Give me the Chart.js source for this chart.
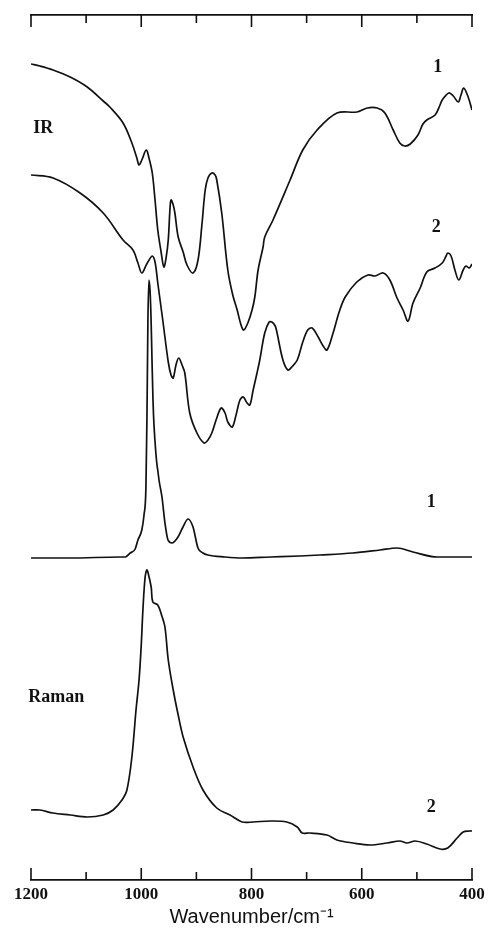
<!DOCTYPE html>
<html>
<head>
<meta charset="utf-8">
<script src="https://cdn.jsdelivr.net/npm/chart.js@4.4.1/dist/chart.umd.min.js"></script>
<style>
  html, body { margin: 0; padding: 0; background: #fff; }
  #wrap { width: 490px; height: 937px; }
</style>
</head>
<body>
<div id="wrap"><canvas id="spectra"></canvas></div>
<script>
// wavenumbers (cm-1) and offset intensities (arbitrary units)
var ir1Wn = [1200,1184,1160,1129,1098,1069,1057,1033,1017,1008,1004,999,991,986,980,975,970,964,959,955,951,948,946,942,939,933,924,917,906,897,890,884,879,872,866,863,854,843,834,826,819,814,806,799,794,788,779,776,761,730,707,681,645,609,590,572,558,543,531,522,512,498,489,482,467,458,454,442,434,425,420,415,407,400];
var ir1Val = [81.6,81.4,81.0,80.3,79.3,77.9,77.3,75.7,73.7,72.2,71.5,72.0,73.0,72.2,70.7,68.0,65.0,62.8,61.3,62.2,64.0,67.0,68.0,67.5,66.7,64.3,62.8,61.5,60.7,62.0,65.5,69.0,70.2,70.7,70.5,70.0,66.7,61.0,58.5,57.0,55.5,55.0,55.8,57.0,58.3,61.0,63.3,64.3,66.0,70.0,73.0,75.0,76.7,76.8,77.2,77.2,76.7,75.0,73.7,73.4,73.6,74.5,75.6,76.0,76.5,77.5,78.0,78.7,78.4,77.8,78.5,79.2,78.3,77.0];

var ir2Wn = [1200,1160,1111,1069,1033,1015,1006,999,990,980,975,970,961,951,946,942,937,932,926,921,912,899,886,879,872,863,855,848,843,835,828,821,815,808,803,797,790,785,776,768,763,757,754,743,734,727,717,707,698,690,679,670,663,652,641,630,609,589,576,561,549,536,525,516,507,494,482,467,454,447,444,438,431,424,416,411,405,400];
var ir2Val = [70.5,70.2,68.7,66.7,64.0,63.0,61.7,60.7,61.6,62.4,61.8,59.7,56.0,51.8,50.5,50.2,51.5,52.2,51.5,50.7,46.7,44.7,43.7,44.0,44.7,46.2,47.2,46.7,45.8,45.3,46.5,48.0,48.3,47.7,47.5,49.0,50.7,52.0,54.7,55.8,55.8,55.4,54.8,52.0,51.0,51.3,52.0,53.8,55.0,55.2,54.3,53.4,53.0,54.7,56.8,58.3,59.8,60.5,60.4,60.7,60.0,58.2,57.0,55.9,57.7,59.2,60.8,61.2,61.7,62.4,62.7,62.4,61.0,60.0,61.0,61.4,61.2,61.6];

var raman1Wn = [1200,1129,1039,1029,1020,1011,1006,999,995,991.5,989.7,987.9,986.1,984.1,982.3,980.5,978.7,976.9,973.2,971.4,969.6,967.8,962.4,957,951.5,944.2,933.3,924.3,915.2,906.1,897.1,888,878.9,848.1,817.3,766,712,676,616,567,536,507,463,400];
var raman1Val = [32.2,32.2,32.3,32.3,32.7,33.1,34.0,35.0,36.5,39.3,46.0,56.0,60.0,59.0,56.3,52.0,48.0,45.5,42.5,41.5,40.8,40.0,38.3,35.7,34.0,33.7,34.3,35.3,36.1,35.3,33.2,32.7,32.5,32.3,32.2,32.3,32.4,32.5,32.7,33.0,33.2,32.8,32.3,32.3];

var raman2Wn = [1200,1184,1160,1129,1098,1069,1051,1035,1026,1017,1009.5,1004,1000,997,993,990,988,982,979,970,962,957,951,942,933,924,906,888,863,839,817,797,766,736,717,708,694,663,645,616,585,554,531,518,503,482,458,444,427,416,404,400];
var raman2Val = [7.0,7.0,6.7,6.5,6.3,6.5,7.0,8.0,9.0,12.3,17.0,20.0,23.5,27.0,30.3,31.0,30.8,29.3,27.8,27.5,26.3,25.3,22.0,19.0,16.5,14.3,11.3,9.0,7.2,6.5,5.8,5.8,5.9,5.8,5.3,4.7,4.7,4.5,4.0,3.7,3.5,3.7,3.9,3.7,3.9,3.6,3.1,3.2,4.2,4.8,4.9,4.9];

var tickValues = [1200,1100,1000,900,800,700,600,500,400];
var tickLabels = ["1200","1000","800","600","400"];

// curve labels, placed in data units
var curveLabels = [
  { text: "IR", wn: 1196, v: 75.2, align: "left" },
  { text: "1", wn: 462, v: 81.3, align: "center" },
  { text: "2", wn: 465, v: 65.3, align: "center" },
  { text: "1", wn: 474, v: 37.8, align: "center" },
  { text: "Raman", wn: 1205, v: 18.3, align: "left" },
  { text: "2", wn: 474, v: 7.3, align: "center" }
];

function toPoints(wn, val) {
  var pts = [];
  for (var i = 0; i < wn.length; i++) {
    pts.push({ x: wn[i], y: val[i] });
  }
  return pts;
}

function line(wn, val, sharp) {
  var ds = {
    data: toPoints(wn, val),
    borderColor: "#111",
    borderWidth: 1.7,
    pointRadius: 0,
    fill: false
  };
  if (sharp) {
    ds.cubicInterpolationMode = "monotone";
  } else {
    ds.tension = 0.35;
  }
  return ds;
}

var decor = {
  id: "decor",
  afterDraw: function(chart) {
    var ctx = chart.ctx;
    var x = chart.scales.x;
    var y = chart.scales.y;
    var a = chart.chartArea;
    ctx.save();
    ctx.strokeStyle = "#111";
    ctx.lineWidth = 1.6;
    tickValues.forEach(function(v) {
      var px = x.getPixelForValue(v);
      var len = (v % 200 === 0) ? 12 : 8;
      ctx.beginPath();
      ctx.moveTo(px, a.bottom);
      ctx.lineTo(px, a.bottom - len);
      ctx.moveTo(px, a.top);
      ctx.lineTo(px, a.top + len);
      ctx.stroke();
    });
    ctx.fillStyle = "#111";
    ctx.font = 'bold 18px "Liberation Serif"';
    ctx.textBaseline = "middle";
    curveLabels.forEach(function(l) {
      ctx.textAlign = l.align;
      ctx.fillText(l.text, x.getPixelForValue(l.wn), y.getPixelForValue(l.v));
    });
    ctx.restore();
  }
};

new Chart(document.getElementById("spectra"), {
  type: "line",
  data: {
    datasets: [
      line(ir1Wn, ir1Val, false),
      line(ir2Wn, ir2Val, false),
      line(raman1Wn, raman1Val, true),
      line(raman2Wn, raman2Val, false)
    ]
  },
  options: {
    responsive: true,
    maintainAspectRatio: false,
    animation: false,
    layout: { padding: { left: 31, right: 18, top: 15, bottom: 0 } },
    plugins: { legend: { display: false }, tooltip: { enabled: false } },
    scales: {
      x: {
        type: "linear",
        position: "bottom",
        min: 400,
        max: 1200,
        reverse: true,
        grid: { display: false, drawTicks: false },
        border: { display: true, color: "#111", width: 1.8 },
        ticks: {
          stepSize: 100,
          autoSkip: false,
          maxRotation: 0,
          padding: 4,
          color: "#111",
          font: { family: "Liberation Serif", size: 17, weight: "bold" },
          callback: function(v) {
            var s = String(v);
            return tickLabels.indexOf(s) >= 0 ? s : "";
          }
        },
        title: {
          display: true,
          text: "Wavenumber/cm\u207B\u00B9",
          color: "#111",
          font: { family: "Liberation Sans", size: 20 },
          padding: { top: 0, bottom: 8 }
        },
        afterFit: function(scale) { scale.height = 57; }
      },
      x2: {
        type: "linear",
        position: "top",
        min: 400,
        max: 1200,
        reverse: true,
        grid: { display: false, drawTicks: false },
        border: { display: true, color: "#111", width: 1.8 },
        ticks: { display: false },
        afterFit: function(scale) { scale.height = 0; }
      },
      y: {
        display: false,
        min: 0,
        max: 86.5
      }
    }
  },
  plugins: [decor]
});
</script>
</body>
</html>
